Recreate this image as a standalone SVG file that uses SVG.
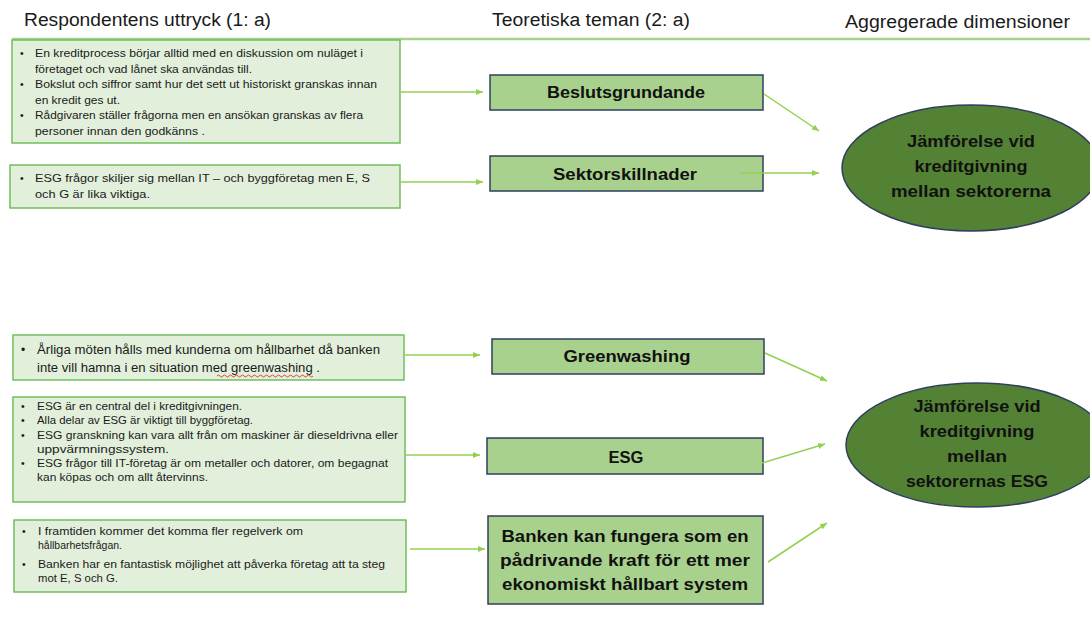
<svg xmlns="http://www.w3.org/2000/svg" width="1090" height="617" viewBox="0 0 1090 617">
<style>
.hdr{font-family:"Liberation Sans",Arial,sans-serif;font-size:18px;fill:#1a1a1a}
.lbox{fill:#E2EFDA;stroke:#72BE5E;stroke-width:1.5}
.s{font-family:"Liberation Sans",Arial,sans-serif;font-size:10.5px;fill:#1a1a1a}
.m{font-family:"Liberation Sans",Arial,sans-serif;font-size:12px;fill:#1a1a1a}
.mbox{fill:#A9D18E;stroke:#2F3F5F;stroke-width:1.5}
.b{font-family:"Liberation Sans",Arial,sans-serif;font-size:17px;font-weight:bold;fill:#111;text-anchor:middle}
.ell{fill:#548235;stroke:#2F3F5F;stroke-width:1.5}
.conn line{stroke:#92D050;stroke-width:1.5;marker-end:url(#ah)}
</style>
<defs>
<marker id="ah" markerUnits="userSpaceOnUse" markerWidth="8" markerHeight="7" refX="7" refY="3" orient="auto">
<path d="M0,0 L7,3 L0,6 z" fill="#92D050"/>
</marker>
</defs>
<rect width="1090" height="617" fill="#ffffff"/>

<g id="headers">
<text class="hdr" x="24" y="26" textLength="247" lengthAdjust="spacingAndGlyphs">Respondentens uttryck (1: a)</text>
<text class="hdr" x="492" y="26" textLength="198" lengthAdjust="spacingAndGlyphs">Teoretiska teman (2: a)</text>
<text class="hdr" x="845" y="28" textLength="225" lengthAdjust="spacingAndGlyphs">Aggregerade dimensioner</text>
<line x1="12" y1="39" x2="1090" y2="39" stroke="#A9D18E" stroke-width="2.5"/>
</g>

<g id="quote1">
<rect class="lbox" x="12" y="40" width="388" height="103"/>
<text class="s" x="20" y="57">•</text>
<text class="s" x="35" y="57" textLength="328" lengthAdjust="spacingAndGlyphs">En kreditprocess börjar alltid med en diskussion om nuläget i</text>
<text class="s" x="35" y="72.5" textLength="217" lengthAdjust="spacingAndGlyphs">företaget och vad lånet ska användas till.</text>
<text class="s" x="20" y="88">•</text>
<text class="s" x="35" y="88" textLength="342" lengthAdjust="spacingAndGlyphs">Bokslut och siffror samt hur det sett ut historiskt granskas innan</text>
<text class="s" x="35" y="103.5" textLength="85" lengthAdjust="spacingAndGlyphs">en kredit ges ut.</text>
<text class="s" x="20" y="119">•</text>
<text class="s" x="35" y="119" textLength="328" lengthAdjust="spacingAndGlyphs">Rådgivaren ställer frågorna men en ansökan granskas av flera</text>
<text class="s" x="35" y="134.5" textLength="170" lengthAdjust="spacingAndGlyphs">personer innan den godkänns .</text>
</g>

<g id="quote2">
<rect class="lbox" x="10" y="165" width="390" height="43"/>
<text class="s" x="20" y="182">•</text>
<text class="s" x="35" y="182" textLength="335" lengthAdjust="spacingAndGlyphs">ESG frågor skiljer sig mellan IT – och byggföretag men E, S</text>
<text class="s" x="35" y="198" textLength="115" lengthAdjust="spacingAndGlyphs">och G är lika viktiga.</text>
</g>

<g id="quote3">
<rect class="lbox" x="13" y="335" width="391" height="45"/>
<text class="m" x="21" y="354">•</text>
<text class="m" x="37" y="354" textLength="343" lengthAdjust="spacingAndGlyphs">Årliga möten hålls med kunderna om hållbarhet då banken</text>
<text class="m" x="37" y="372" textLength="283" lengthAdjust="spacingAndGlyphs">inte vill hamna i en situation med greenwashing .</text>
<path d="M217,376 q1.5,-2 3,0 t3,0 t3,0 t3,0 t3,0 t3,0 t3,0 t3,0 t3,0 t3,0 t3,0 t3,0 t3,0 t3,0 t3,0 t3,0 t3,0 t3,0 t3,0 t3,0 t3,0 t3,0 t3,0 t3,0 t3,0 t3,0 t3,0 t3,0 t3,0 t3,0 t3,0 t3,0" fill="none" stroke="#E03030" stroke-width="0.9"/>
</g>

<g id="quote4">
<rect class="lbox" x="13" y="397" width="392" height="105"/>
<text class="s" x="21" y="410">•</text>
<text class="s" x="37" y="410" textLength="205" lengthAdjust="spacingAndGlyphs">ESG är en central del i kreditgivningen.</text>
<text class="s" x="21" y="424">•</text>
<text class="s" x="37" y="424" textLength="216" lengthAdjust="spacingAndGlyphs">Alla delar av ESG är viktigt till byggföretag.</text>
<text class="s" x="21" y="438.5">•</text>
<text class="s" x="37" y="438.5" textLength="361" lengthAdjust="spacingAndGlyphs">ESG granskning kan vara allt från om maskiner är dieseldrivna eller</text>
<text class="s" x="37" y="452.5" textLength="132" lengthAdjust="spacingAndGlyphs">uppvärmningssystem.</text>
<text class="s" x="21" y="467">•</text>
<text class="s" x="37" y="467" textLength="351" lengthAdjust="spacingAndGlyphs">ESG frågor till IT-företag är om metaller och datorer, om begagnat</text>
<text class="s" x="37" y="481" textLength="171" lengthAdjust="spacingAndGlyphs">kan köpas och om allt återvinns.</text>
</g>

<g id="quote5">
<rect class="lbox" x="14" y="520" width="392" height="72"/>
<text class="s" x="22" y="535">•</text>
<text class="s" x="38" y="535" textLength="265" lengthAdjust="spacingAndGlyphs">I framtiden kommer det komma fler regelverk om</text>
<text class="s" x="38" y="549" textLength="84" lengthAdjust="spacingAndGlyphs">hållbarhetsfrågan.</text>
<text class="s" x="22" y="568">•</text>
<text class="s" x="38" y="568" textLength="347" lengthAdjust="spacingAndGlyphs">Banken har en fantastisk möjlighet att påverka företag att ta steg</text>
<text class="s" x="38" y="582" textLength="80" lengthAdjust="spacingAndGlyphs">mot E, S och G.</text>
</g>

<g id="theme-beslut">
<rect class="mbox" x="490" y="75" width="273" height="35"/>
<text class="b" x="626" y="98" textLength="158" lengthAdjust="spacingAndGlyphs">Beslutsgrundande</text>
</g>
<g id="theme-sektor">
<rect class="mbox" x="490" y="156" width="273" height="35"/>
<text class="b" x="625" y="180" textLength="144" lengthAdjust="spacingAndGlyphs">Sektorskillnader</text>
</g>
<g id="theme-greenwashing">
<rect class="mbox" x="492" y="339" width="272" height="35"/>
<text class="b" x="627" y="362" textLength="127" lengthAdjust="spacingAndGlyphs">Greenwashing</text>
</g>
<g id="theme-esg">
<rect class="mbox" x="487" y="438" width="276" height="36"/>
<text class="b" x="626" y="463" textLength="35" lengthAdjust="spacingAndGlyphs">ESG</text>
</g>
<g id="theme-banken">
<rect class="mbox" x="488" y="516" width="275" height="88"/>
<text class="b" x="625" y="542" textLength="247" lengthAdjust="spacingAndGlyphs">Banken kan fungera som en</text>
<text class="b" x="625" y="566" textLength="250" lengthAdjust="spacingAndGlyphs">pådrivande kraft för ett mer</text>
<text class="b" x="625" y="590" textLength="246" lengthAdjust="spacingAndGlyphs">ekonomiskt hållbart system</text>
</g>

<g id="dim-sektorer">
<ellipse class="ell" cx="971" cy="168" rx="129" ry="63"/>
<text class="b" x="971" y="147" textLength="128" lengthAdjust="spacingAndGlyphs">Jämförelse vid</text>
<text class="b" x="971" y="172" textLength="113" lengthAdjust="spacingAndGlyphs">kreditgivning</text>
<text class="b" x="971" y="197" textLength="160" lengthAdjust="spacingAndGlyphs">mellan sektorerna</text>
</g>
<g id="dim-esg">
<ellipse class="ell" cx="977" cy="445" rx="131" ry="62"/>
<text class="b" x="977" y="412" textLength="127" lengthAdjust="spacingAndGlyphs">Jämförelse vid</text>
<text class="b" x="977" y="437" textLength="115" lengthAdjust="spacingAndGlyphs">kreditgivning</text>
<text class="b" x="977" y="462" textLength="60" lengthAdjust="spacingAndGlyphs">mellan</text>
<text class="b" x="977" y="487" textLength="142" lengthAdjust="spacingAndGlyphs">sektorernas ESG</text>
</g>

<g id="connectors" class="conn">
<line x1="401" y1="92" x2="483" y2="92"/>
<line x1="401" y1="182" x2="483" y2="182"/>
<line x1="405" y1="355" x2="480" y2="355"/>
<line x1="406" y1="455" x2="480" y2="455"/>
<line x1="410" y1="549" x2="485" y2="549"/>
<line x1="764" y1="94" x2="819" y2="131"/>
<line x1="740" y1="173" x2="819" y2="173"/>
<line x1="765" y1="353" x2="827" y2="381"/>
<line x1="762" y1="463" x2="825" y2="444"/>
<line x1="768" y1="562" x2="827" y2="523"/>
</g>
</svg>
